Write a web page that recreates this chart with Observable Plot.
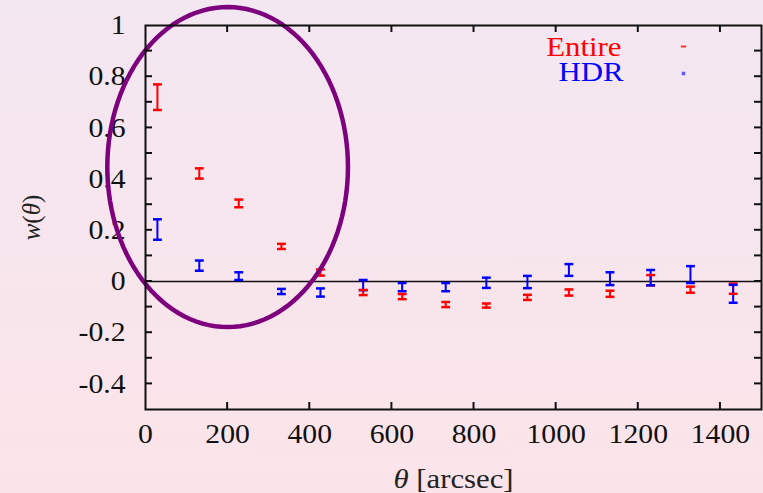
<!DOCTYPE html>
<html>
<head>
<meta charset="utf-8">
<script src="https://cdn.jsdelivr.net/npm/d3@7"></script>
<script src="https://cdn.jsdelivr.net/npm/@observablehq/plot@0.6"></script>
<style>
  html, body { margin: 0; padding: 0; }
  body { width: 763px; height: 493px; background: linear-gradient(#f3e7f1, #fbe4e9); overflow: hidden; }
  #chart svg { display: block; }
</style>
</head>
<body>
<div id="chart"></div>
<script>
// angular separation (arcsec)
const theta = [29, 131, 227, 331, 426, 530, 625, 731, 830, 930, 1031, 1131, 1230, 1327, 1431];
// "Entire" sample
const wEntire   = [0.72, 0.422, 0.305, 0.137, 0.035, -0.043, -0.059, -0.09, -0.094, -0.062, -0.043, -0.048, 0.005, -0.032, -0.028];
const errEntire = [0.05, 0.02, 0.015, 0.01, 0.012, 0.01, 0.01, 0.01, 0.008, 0.01, 0.012, 0.012, 0.02, 0.012, 0.02];
// "HDR" sample
const wHDR   = [0.203, 0.062, 0.021, -0.039, -0.043, -0.014, -0.022, -0.022, -0.005, -0.002, 0.045, 0.011, 0.015, 0.027, -0.048];
const errHDR = [0.04, 0.02, 0.015, 0.01, 0.016, 0.02, 0.016, 0.016, 0.02, 0.024, 0.023, 0.025, 0.03, 0.033, 0.035];

const seriesNames = ["Entire", "HDR"];
const seriesColors = ["#ff0000", "#0000ff"];

const xTicks = [0, 200, 400, 600, 800, 1000, 1200, 1400];
const yLabelTicks = [-0.4, -0.2, 0, 0.2, 0.4, 0.6, 0.8, 1];
const yMinorTicks = [-0.4, -0.3, -0.2, -0.1, 0, 0.1, 0.2, 0.3, 0.4, 0.5, 0.6, 0.7, 0.8, 0.9];

// highlight ellipse annotation (data units)
const ellipse = {cx: 200, cy: 0.447, rx: 293, ry: 0.625};

const rows = [];
[[wEntire, errEntire], [wHDR, errHDR]].forEach(([w, e], s) => {
  theta.forEach((t, i) => rows.push({series: seriesNames[s], theta: t, w: w[i], lo: w[i] - e[i], hi: w[i] + e[i]}));
});

const ellipsePts = d3.range(0, 361, 3).map(a => {
  const r = a * Math.PI / 180;
  return {x: ellipse.cx + ellipse.rx * Math.cos(r), y: ellipse.cy + ellipse.ry * Math.sin(r)};
});

const hline = {draw(ctx, size) { const r = Math.sqrt(size); ctx.moveTo(-r, 0); ctx.lineTo(r, 0); }};

const W = 763, H = 493, mL = 145, mR = 2, mT = 25, mB = 84;
const xDom = [0, 1500], yDom = [-0.5, 1];
const tickLen = 7;
const FONT = "'Liberation Serif', 'DejaVu Serif', serif";
const INK = "#111";

const plot = Plot.plot({
  width: W, height: H,
  marginLeft: mL, marginRight: mR, marginTop: mT, marginBottom: mB,
  style: {background: "transparent", fontFamily: FONT},
  x: {domain: xDom},
  y: {domain: yDom},
  color: {domain: seriesNames, range: seriesColors},
  marks: [
    Plot.ruleY([0], {stroke: INK, strokeWidth: 1.5}),
    Plot.axisY(yLabelTicks, {tickSize: 0, tickPadding: 20, fontSize: 27, fill: INK,
      tickFormat: d => String(+d.toFixed(1)), label: null, className: "stretch"}),
    Plot.axisX(xTicks, {tickSize: 0, tickPadding: 14, fontSize: 27, fill: INK, label: null,
      tickFormat: d => String(d), className: "stretch"}),
    // error bars
    Plot.ruleX(rows, {x: "theta", y1: "lo", y2: "hi", stroke: "series", strokeWidth: 2}),
    Plot.dot(rows, {x: "theta", y: "lo", symbol: hline, r: 2.5, stroke: "series", strokeWidth: 2.5}),
    Plot.dot(rows, {x: "theta", y: "hi", symbol: hline, r: 2.5, stroke: "series", strokeWidth: 2.5}),
    Plot.dot(rows, {x: "theta", y: "w", r: 0.8, fill: "series", fillOpacity: 0.5}),
    // legend
    Plot.text([seriesNames[0]], {text: d => d, frameAnchor: "top-right", textAnchor: "end", lineAnchor: "middle",
      dx: -140, dy: 22, fill: seriesColors[0], fontSize: 28, className: "stretch"}),
    Plot.text([seriesNames[1]], {text: d => d, frameAnchor: "top-right", textAnchor: "end", lineAnchor: "middle",
      dx: -138, dy: 47, fill: seriesColors[1], fontSize: 28, className: "stretch"}),
    Plot.dot([seriesNames[0]], {frameAnchor: "top-right", dx: -78, dy: 21, symbol: hline, r: 1.5, stroke: seriesColors[0], strokeWidth: 2, strokeOpacity: 0.8}),
    Plot.dot([seriesNames[1]], {frameAnchor: "top-right", dx: -78, dy: 48, symbol: "square", r: 2, fill: seriesColors[1], fillOpacity: 0.6}),
    // annotation ellipse
    Plot.line(ellipsePts, {x: "x", y: "y", stroke: "#7d007d", strokeWidth: 4.5, curve: "linear-closed"}),
    Plot.frame({stroke: INK, strokeWidth: 2}),
    // axis titles
    Plot.text(["w(θ)"], {text: d => d, frameAnchor: "left", textAnchor: "middle", lineAnchor: "middle", dx: -114, rotate: -90, fontSize: 25, fill: "#222", className: "ylab"}),
    Plot.text(["θ [arcsec]"], {text: d => d, frameAnchor: "bottom", lineAnchor: "middle", dy: 70, fontSize: 28, fill: "#222", className: "xlab"})
  ]
});
document.getElementById("chart").appendChild(plot);

// inward ticks on all four sides, positioned through the plot's own scales
const sx = plot.scale("x"), sy = plot.scale("y");
const X0 = sx.apply(xDom[0]), X1 = sx.apply(xDom[1]);
const Y0 = sy.apply(yDom[0]), Y1 = sy.apply(yDom[1]);
const gt = d3.select(plot).append("g").attr("stroke", INK).attr("stroke-width", 2);
yMinorTicks.forEach(v => {
  const y = sy.apply(v);
  gt.append("line").attr("x1", X0).attr("x2", X0 + tickLen).attr("y1", y).attr("y2", y);
  gt.append("line").attr("x1", X1 - tickLen).attr("x2", X1).attr("y1", y).attr("y2", y);
});
xTicks.slice(1).forEach(v => {
  const x = sx.apply(v);
  gt.append("line").attr("x1", x).attr("x2", x).attr("y1", Y0).attr("y2", Y0 - tickLen);
  gt.append("line").attr("x1", x).attr("x2", x).attr("y1", Y1).attr("y2", Y1 + tickLen);
});

// horizontally widen text to match the reference's stretched glyphs
d3.select(plot).selectAll(".stretch text").each(function() {
  const t = d3.select(this);
  t.attr("transform", (t.attr("transform") || "") + " scale(1.1,1)");
});
// italic math symbols in axis titles
d3.select(plot).select(".ylab text").each(function() {
  const t = d3.select(this);
  t.text(null);
  t.append("tspan").attr("font-style", "italic").text("w");
  t.append("tspan").text("(");
  t.append("tspan").attr("font-style", "italic").text("θ");
  t.append("tspan").text(")");
});
d3.select(plot).select(".xlab text").each(function() {
  const t = d3.select(this);
  t.text(null);
  t.append("tspan").attr("font-style", "italic").text("θ");
  t.append("tspan").text(" [arcsec]");
  t.attr("transform", (t.attr("transform") || "") + " scale(1.1,1)");
});
</script>
</body>
</html>
